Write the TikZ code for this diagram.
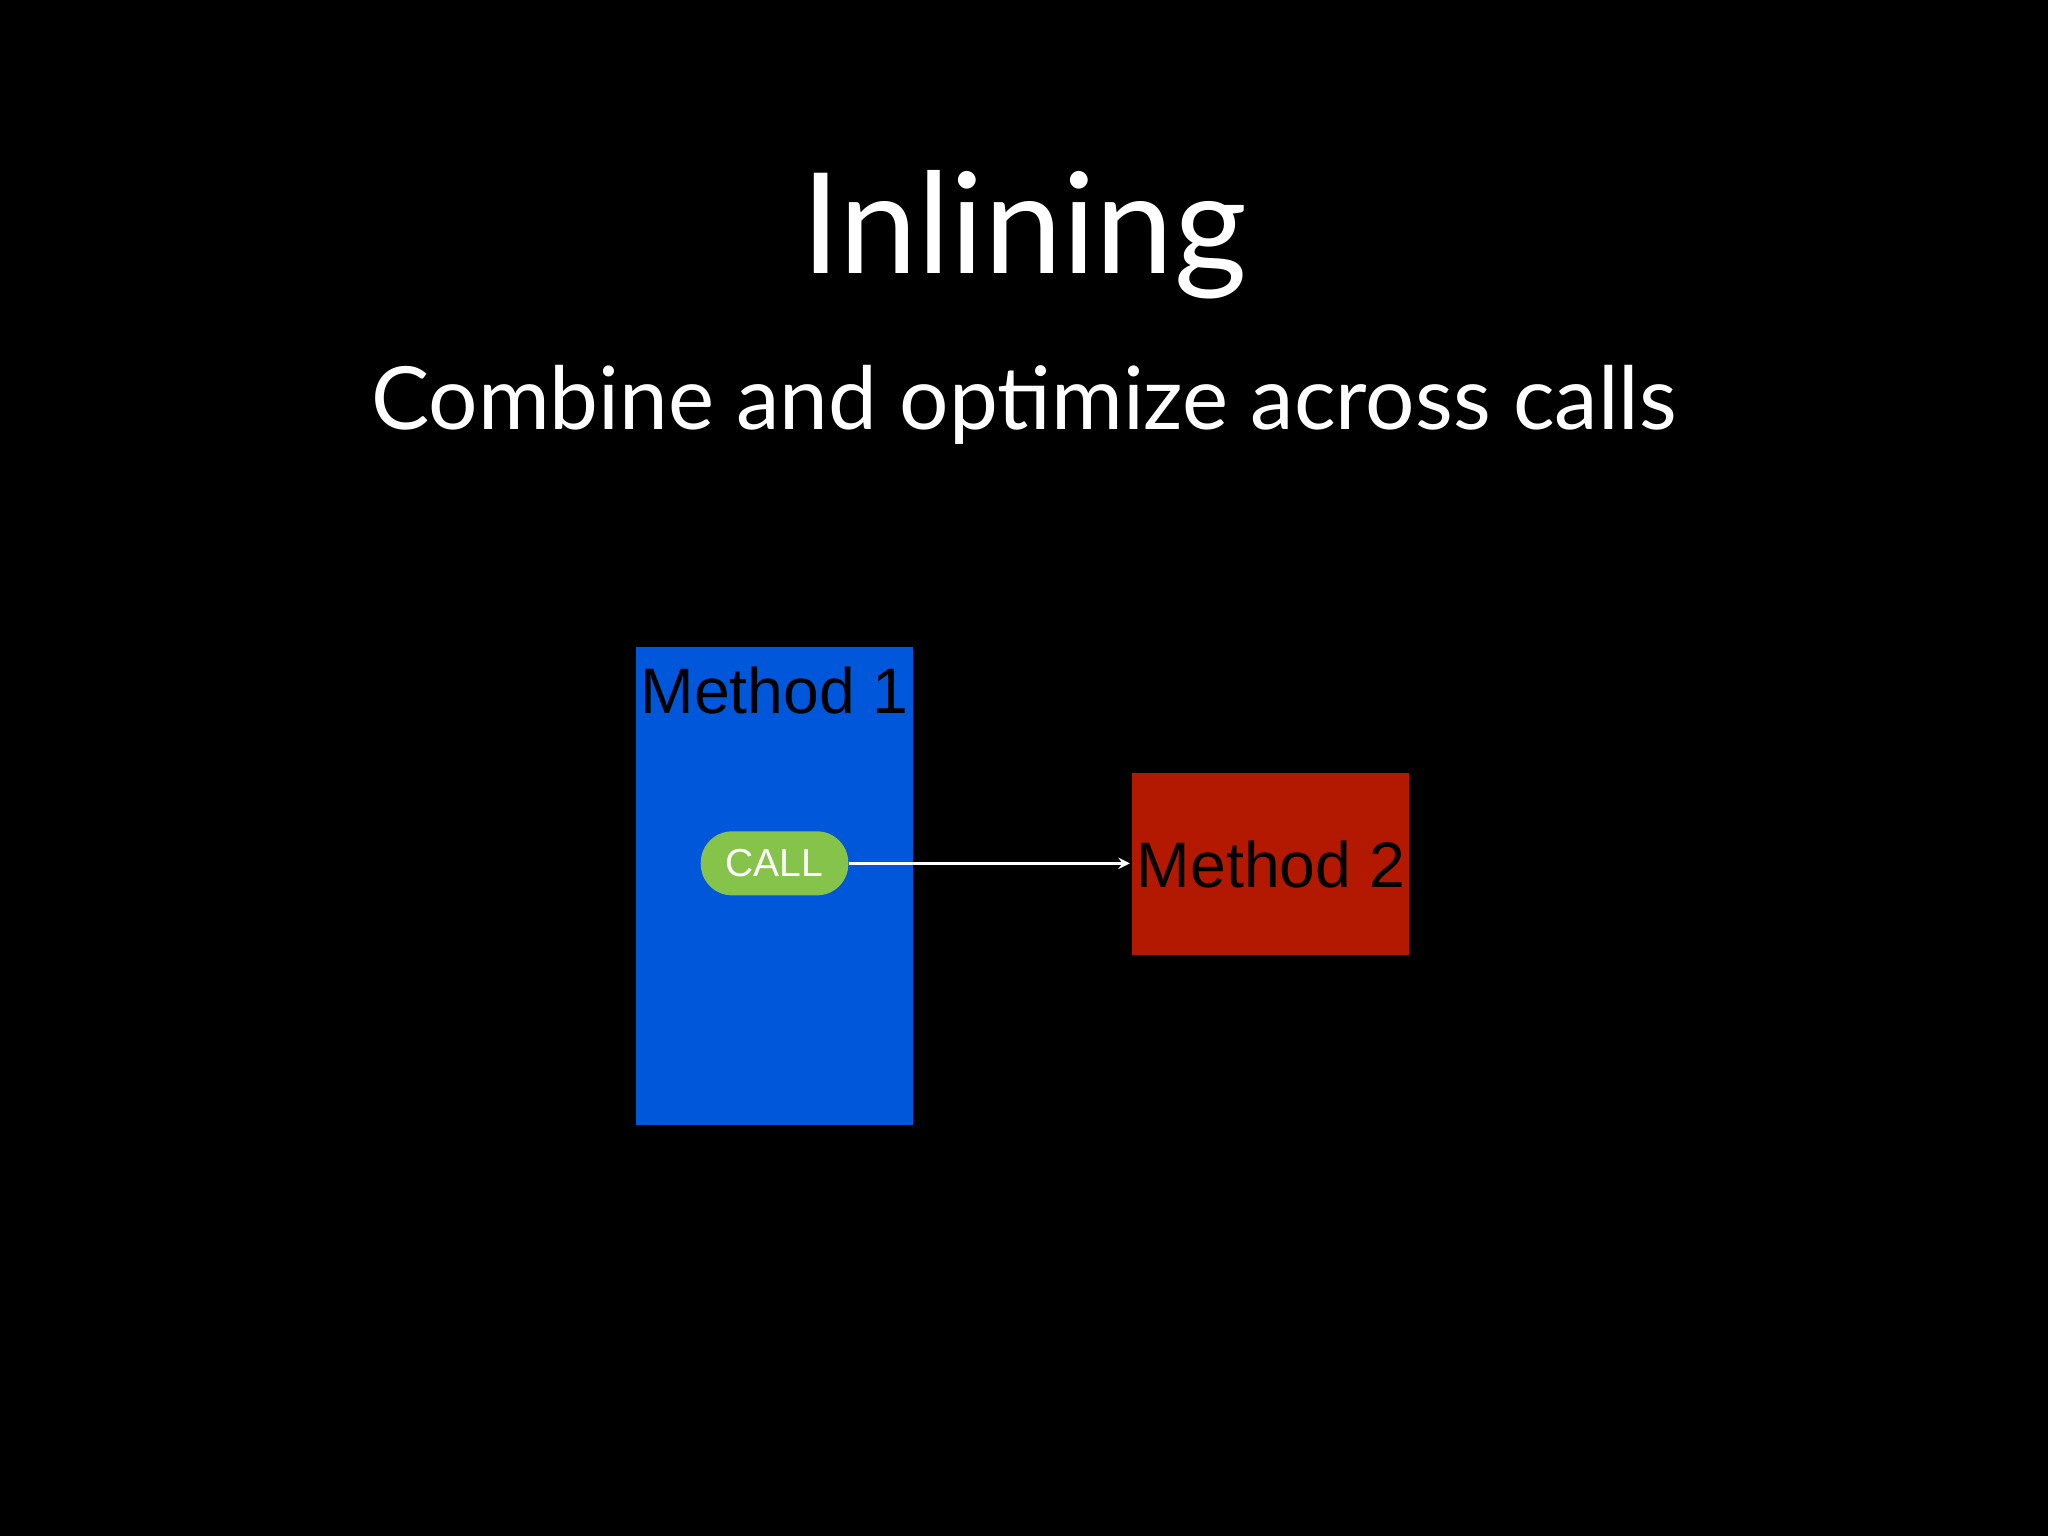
\documentclass[tikz,border=0pt]{standalone}
\usepackage{fontspec}
\setmainfont{Liberation Sans}
\newfontfamily\titlefont{Lato}
\definecolor{mblue}{HTML}{0057D9}
\definecolor{mred}{HTML}{B31800}
\definecolor{mgreen}{HTML}{86C34B}
\begin{document}
\begin{tikzpicture}[x=0.02cm,y=-0.02cm,
  boxtext/.style={font=\fontsize{28}{32}\selectfont, text=black},
  wtext/.style={text=white}]
\useasboundingbox (0,0) rectangle (1568,1176);
\fill[black] (0,0) rectangle (1568,1176);
\node[wtext,font=\titlefont\fontsize{61}{70}\selectfont] (title) at (784,180) {Inlining};
\node[wtext,font=\titlefont\fontsize{38}{44}\selectfont] (sub) at (784,310) {Combine and optimize across calls};
\fill[mblue] (487,495) rectangle (699,861);
\coordinate (m1) at (593,678);
\node[boxtext] (m1t) at (593,529) {Method 1};
\fill[mred] (867,592) rectangle (1079,731);
\node[boxtext] (m2) at (973,662) {Method 2};
\coordinate (m2w) at (865,661);
\node[fill=mgreen, rounded corners=24*0.02cm, minimum width=113*0.02cm, minimum height=49*0.02cm, inner sep=0pt, text=white, font=\fontsize{17}{20}\selectfont] (call) at (593,661) {CALL};
\draw[white, line width=1.2pt, ->, >=stealth] (call.east) -- (m2w);
\end{tikzpicture}
\end{document}
